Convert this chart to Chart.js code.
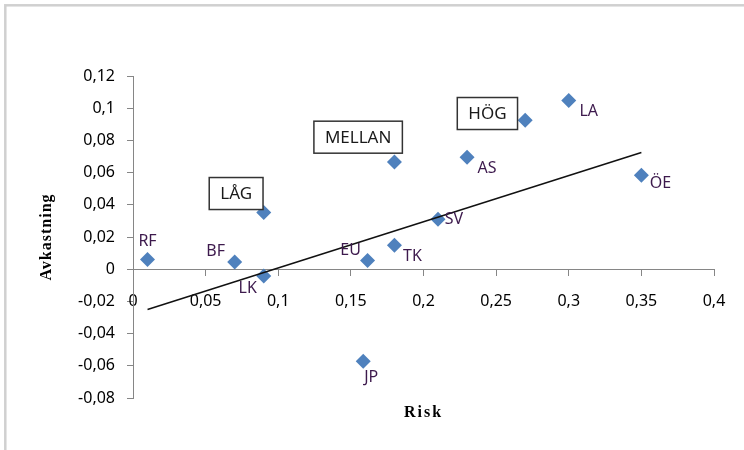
<!DOCTYPE html>
<html>
<head>
<meta charset="utf-8">
<script src="https://cdn.jsdelivr.net/npm/chart.js@4.4.0/dist/chart.umd.min.js"></script>
<style>
  html, body { margin: 0; padding: 0; background: #fff; }
  #wrap { width: 744px; height: 450px; }
</style>
</head>
<body>
<div id="wrap"><canvas id="chart" width="744" height="450"></canvas></div>
<script>
// punkter (risk / avkastning)
const names = ['RF', 'BF', '', 'LK', 'EU', 'JP', '', 'TK', 'SV', 'AS', '', 'LA', 'ÖE'];
const risk = [0.01, 0.07, 0.09, 0.09, 0.1615, 0.1585, 0.18, 0.18, 0.21, 0.23, 0.27, 0.30, 0.35];
const avkastning = [0.006, 0.0045, 0.0352, -0.0042, 0.0054, -0.0571, 0.0666, 0.0149, 0.031, 0.0696, 0.0925, 0.1048, 0.0584];

// trendlinje
const trendX = [0.01, 0.35];
const trendY = [-0.025, 0.0725];

// grupprutor
const groupNames = ['LÅG', 'MELLAN', 'HÖG'];
const groupX = [0.071, 0.155, 0.244];
const groupY = [0.047, 0.082, 0.0967];

// axlar
const xTicks = [0, 0.05, 0.1, 0.15, 0.2, 0.25, 0.3, 0.35, 0.4];
const xTickLabels = ['0', '0,05', '0,1', '0,15', '0,2', '0,25', '0,3', '0,35', '0,4'];
const yTicks = [-0.08, -0.06, -0.04, -0.02, 0, 0.02, 0.04, 0.06, 0.08, 0.1, 0.12];
const yTickLabels = ['-0,08', '-0,06', '-0,04', '-0,02', '0', '0,02', '0,04', '0,06', '0,08', '0,1', '0,12'];

const xTitle = 'Risk';
const yTitle = 'Avkastning';

// var etiketterna hamnar relativt punkten (px)
const labelOffset = {
  RF: [0, -18], BF: [-19, -11], LK: [-16, 12], EU: [-17, -10], JP: [8, 16],
  TK: [18, 11], SV: [16, 0], AS: [20, 11], LA: [20, 11], 'ÖE': [19, 8]
};

const axisGray = '#868686';
const labelFont = '16px "Noto Sans"';

const extras = {
  id: 'extras',
  beforeDraw(chart) {
    const ctx = chart.ctx;
    ctx.save();
    ctx.fillStyle = '#fff';
    ctx.fillRect(0, 0, chart.width, chart.height);
    ctx.strokeStyle = '#d0d0d0';
    ctx.lineWidth = 2.5;
    ctx.strokeRect(5.3, 5.3, 900, 600);
    ctx.restore();
  },
  afterDatasetsDraw(chart) {
    const ctx = chart.ctx;
    const xs = chart.scales.x, ys = chart.scales.y;
    const area = chart.chartArea;
    ctx.save();

    // datapunktsetiketter
    const meta = chart.getDatasetMeta(1);
    ctx.font = labelFont;
    ctx.fillStyle = '#3d1a4d';
    ctx.textAlign = 'center';
    ctx.textBaseline = 'middle';
    meta.data.forEach((pt, i) => {
      const n = names[i];
      if (!n) return;
      const off = labelOffset[n] || [18, 0];
      ctx.fillText(n, pt.x + off[0], pt.y + off[1]);
    });

    // rutor
    ctx.font = '17px "Noto Sans"';
    groupNames.forEach((g, i) => {
      const cx = xs.getPixelForValue(groupX[i]);
      const cy = ys.getPixelForValue(groupY[i]);
      const w = ctx.measureText(g).width + 22;
      const h = 32;
      ctx.fillStyle = '#fff';
      ctx.fillRect(cx - w / 2, cy - h / 2, w, h);
      ctx.strokeStyle = '#333';
      ctx.lineWidth = 1.5;
      ctx.strokeRect(cx - w / 2, cy - h / 2, w, h);
      ctx.fillStyle = '#1a1a1a';
      ctx.fillText(g, cx, cy + 1);
    });

    // axeltitlar
    ctx.fillStyle = '#000';
    ctx.font = 'bold 16px "Liberation Serif"';
    ctx.letterSpacing = '2px';
    ctx.fillText(xTitle, (area.left + area.right) / 2, area.bottom + 15);
    ctx.letterSpacing = '1px';
    ctx.translate(47, (area.top + area.bottom) / 2);
    ctx.rotate(-Math.PI / 2);
    ctx.fillText(yTitle, 0, 0);
    ctx.restore();
  }
};

new Chart(document.getElementById('chart'), {
  type: 'scatter',
  data: {
    datasets: [
      {
        label: 'Trend',
        data: trendX.map((x, i) => ({ x: x, y: trendY[i] })),
        showLine: true,
        borderColor: '#111',
        borderWidth: 1.5,
        pointRadius: 0,
        pointHoverRadius: 0
      },
      {
        label: 'Avkastning',
        data: risk.map((x, i) => ({ x: x, y: avkastning[i] })),
        pointStyle: 'rectRot',
        pointRadius: 7.5,
        backgroundColor: '#4F81BD',
        borderColor: '#4F81BD',
        borderWidth: 0
      }
    ]
  },
  options: {
    responsive: false,
    animation: false,
    layout: { padding: { left: 0, top: 76, right: 30, bottom: 52 } },
    plugins: { legend: { display: false }, tooltip: { enabled: false } },
    scales: {
      x: {
        type: 'linear',
        position: { y: 0 },
        min: 0,
        max: 0.4,
        afterBuildTicks: s => { s.ticks = xTicks.map(v => ({ value: v })); },
        afterFit: s => { s.height = 0; },
        border: { display: true, color: axisGray, width: 1 },
        grid: { drawOnChartArea: false, drawTicks: true, tickLength: 6, color: axisGray },
        ticks: {
          autoSkip: false,
          maxRotation: 0,
          padding: 17,
          color: '#000',
          font: { family: 'Noto Sans', size: 16 },
          callback: (v, i) => xTickLabels[i]
        }
      },
      y: {
        type: 'linear',
        position: 'left',
        min: -0.08,
        max: 0.12,
        afterBuildTicks: s => { s.ticks = yTicks.map(v => ({ value: v })); },
        afterFit: s => { s.width = 133; },
        border: { display: true, color: axisGray, width: 1 },
        grid: { drawOnChartArea: false, drawTicks: true, tickLength: 6, color: axisGray },
        ticks: {
          autoSkip: false,
          padding: 12,
          color: '#000',
          font: { family: 'Noto Sans', size: 16 },
          callback: (v, i) => yTickLabels[i]
        }
      }
    }
  },
  plugins: [extras]
});
</script>
</body>
</html>
